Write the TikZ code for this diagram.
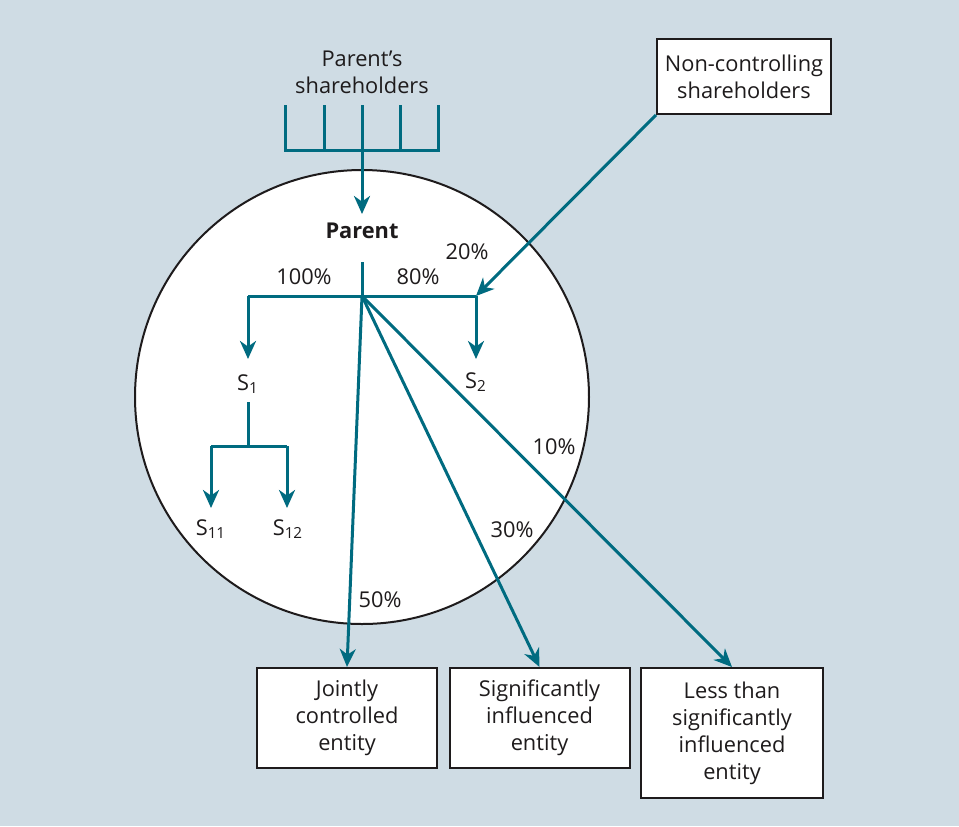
\documentclass[tikz,border=0pt]{standalone}
\usepackage{fontspec}
\setmainfont{Open Sans}
\usetikzlibrary{arrows.meta}
\definecolor{bgblue}{RGB}{207,220,228}
\definecolor{teal}{RGB}{0,107,128}
\definecolor{ink}{RGB}{30,27,28}
\tikzset{
  link/.style={draw=teal, line width=1.5pt},
  arr/.style={link, -{Stealth[length=9pt, width=8pt, inset=2.8pt]}},
  txt/.style={text=ink, font=\fontsize{10.9}{13.5}\selectfont, inner sep=0pt, align=center},
  entitybox/.style={txt, draw=ink, fill=white, line width=1pt, minimum width=90pt},
}
\begin{document}
\begin{tikzpicture}[x=0.5pt, y=-0.5pt]
  % background panel
  \fill[bgblue] (0,0) rectangle (959,826);
  \useasboundingbox (0,0) rectangle (959,826);

  % group boundary
  \draw[ink, line width=1pt, fill=white] (362,397) circle [radius=227];

  % parent's shareholders comb
  \node[txt] (psh) at (362,72) {Parent’s\\shareholders};
  \coordinate (bar) at (362,150);
  \draw[link] (285,105) -- (285,150) -- (438,150) -- (438,105);
  \foreach \x in {324,362,400} \draw[link] (\x,105) -- (\x,150);

  % parent
  \node[txt, font=\fontsize{10.9}{13.5}\selectfont\bfseries] (parent) at (362,231) {Parent};
  \coordinate (ptip) at (362,214);
  \coordinate (pstem) at (362,262);
  \coordinate (hub) at (362,296);
  \coordinate (lcorner) at (248,296);
  \coordinate (rcorner) at (476,296);
  \draw[arr] (bar) -- (ptip);
  \draw[link] (pstem) -- (hub);
  \draw[link] (lcorner) -- (rcorner);

  % subsidiaries
  \node[txt] (s1) at (248,384) {S\textsubscript{1}};
  \node[txt] (s2) at (476,382) {S\textsubscript{2}};
  \coordinate (s1tip) at (248,359);
  \coordinate (s2tip) at (476,359);
  \draw[arr] (lcorner) -- (s1tip);
  \draw[arr] (rcorner) -- (s2tip);

  % second-tier subsidiaries
  \node[txt] (s11) at (211,529) {S\textsubscript{11}};
  \node[txt] (s12) at (288,529) {S\textsubscript{12}};
  \coordinate (s1stem) at (248,402);
  \coordinate (s1join) at (248,446);
  \coordinate (s11corner) at (211,446);
  \coordinate (s12corner) at (287,446);
  \coordinate (s11tip) at (211,508);
  \coordinate (s12tip) at (287,508);
  \draw[link] (s1stem) -- (s1join);
  \draw[link] (s11corner) -- (s12corner);
  \draw[arr] (s11corner) -- (s11tip);
  \draw[arr] (s12corner) -- (s12tip);

  % non-controlling interest
  \node[entitybox, minimum width=87pt, minimum height=37.5pt] (nci) at (744,76.5)
    {Non-controlling\\shareholders};
  \draw[arr] (nci.south west) -- (rcorner);

  % investees outside the group
  \node[entitybox, minimum height=50pt] (jce) at (347,718)
    {Jointly\\controlled\\entity};
  \node[entitybox, minimum height=50pt] (sie) at (539.5,718)
    {Significantly\\influenced\\entity};
  \node[entitybox, minimum width=91pt, minimum height=65pt] (lsie) at (732,733)
    {Less than\\significantly\\influenced\\entity};
  \draw[arr] (hub) -- (jce.north);
  \draw[arr] (hub) -- (sie.north);
  \draw[arr] (hub) -- (lsie.north);

  % ownership percentages
  \node[txt] (p100) at (304,277) {100\%};
  \node[txt] (p80) at (418,277) {80\%};
  \node[txt] (p20) at (467,252) {20\%};
  \node[txt] (p10) at (554,447) {10\%};
  \node[txt] (p30) at (512,530) {30\%};
  \node[txt] (p50) at (380,600) {50\%};
\end{tikzpicture}
\end{document}
